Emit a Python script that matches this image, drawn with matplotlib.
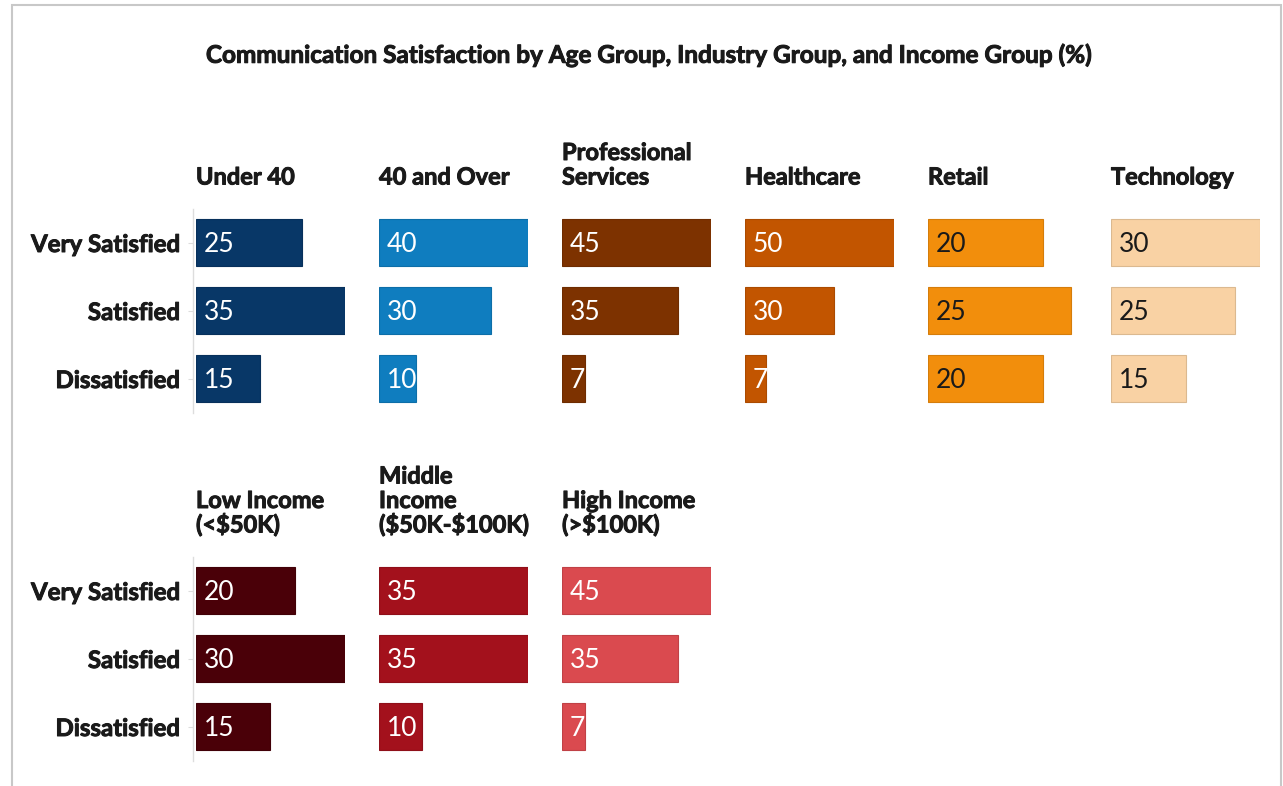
import matplotlib
matplotlib.use("Agg")
import matplotlib.pyplot as plt
import matplotlib.colors as mcolors
import matplotlib.patheffects as pe
from matplotlib.patches import Rectangle

# survey results, % of respondents
levels = ["Very Satisfied", "Satisfied", "Dissatisfied"]

age_groups = ["Under 40", "40 and Over"]
age_values = [[25, 35, 15], [40, 30, 10]]

industry_groups = ["Professional\nServices", "Healthcare", "Retail", "Technology"]
industry_values = [[45, 35, 7], [50, 30, 7], [20, 25, 20], [30, 25, 15]]

income_groups = ["Low Income\n(<$50K)", "Middle\nIncome\n($50K-$100K)", "High Income\n(>$100K)"]
income_values = [[20, 30, 15], [35, 35, 10], [45, 35, 7]]

top_colors = ["#083767", "#0f7dbf", "#7d3200", "#c25500", "#f28e0c", "#f9d2a4"]
top_text = ["white", "white", "white", "white", "#1a1a1a", "#1a1a1a"]
bottom_colors = ["#4a0008", "#a3111c", "#da4a4f"]
bottom_text = ["white", "white", "white"]

W, H = 1283, 786
fig = plt.figure(figsize=(W / 100, H / 100), dpi=100)
fig.patch.set_facecolor("white")

FONT = "Lato"
INK = "#1a1a1a"
# fatten the bold headings a little
THICK = [pe.withStroke(linewidth=0.7, foreground=INK)]


def px_axes(x, y_top, w, h):
    return fig.add_axes([x / W, 1 - (y_top + h) / H, w / W, h / H])


def fig_text(x, y, s, **kw):
    fig.text(x / W, 1 - y / H, s, parse_math=False, **kw)


def darker(c, f=0.88):
    r, g, b = mcolors.to_rgb(c)
    return (r * f, g * f, b * f)


def draw_row(groups, values, colors, tcolors, y_top, xmaxes):
    panel_x = [196 + 183 * i for i in range(len(groups))]
    for i, (name, vals) in enumerate(zip(groups, values)):
        ax = px_axes(panel_x[i], y_top, 149, 204)
        ypos = list(range(len(levels)))
        ax.barh(ypos, vals, height=0.69, color=colors[i],
                edgecolor=darker(colors[i]), linewidth=0.8)
        ax.set_xlim(0, xmaxes[i])
        ax.set_ylim(len(levels) - 0.5, -0.5)
        for y, v in zip(ypos, vals):
            ax.text(xmaxes[i] * 8 / 149, y + 0.03, str(v), color=tcolors[i],
                    fontsize=19, family=FONT, va="center", ha="left")
        ax.set_xticks([])
        for s in ["top", "right", "bottom"]:
            ax.spines[s].set_visible(False)
        if i == 0:
            ax.spines["left"].set_color("#dddddd")
            ax.spines["left"].set_linewidth(1)
            ax.spines["left"].set_position(("outward", 2))
            ax.set_yticks(ypos)
            ax.set_yticklabels(levels, fontsize=17.3, family=FONT,
                               fontweight="bold", color=INK)
            for lab in ax.get_yticklabels():
                lab.set_path_effects(THICK)
            ax.tick_params(axis="y", length=3.6, color="#dddddd", pad=6)
        else:
            ax.spines["left"].set_visible(False)
            ax.set_yticks([])
        # panel header, bottom-aligned lines
        lines = name.split("\n")
        base = y_top - 24
        for k, line in enumerate(reversed(lines)):
            fig_text(panel_x[i], base - 24.5 * k, line, fontsize=17,
                     family=FONT, fontweight="bold", color=INK,
                     va="baseline", ha="left", path_effects=THICK)


draw_row(age_groups + industry_groups, age_values + industry_values,
         top_colors, top_text, 208.5, [35, 40, 45, 50, 26, 30])
draw_row(income_groups, income_values, bottom_colors, bottom_text,
         556.5, [30, 35, 45])

fig_text(648, 55, "Communication Satisfaction by Age Group, Industry Group, and Income Group (%)",
         fontsize=17.5, family=FONT, fontweight="bold", color=INK,
         ha="center", va="center", path_effects=THICK)

# outer frame
fig.patches.append(Rectangle((12 / W, -0.05), (1281 - 12) / W, 1 - 5 / H + 0.05,
                             transform=fig.transFigure, fill=False,
                             edgecolor="#c8c8c8", linewidth=1.5))

fig.savefig("out.png", dpi=100, facecolor="white")
